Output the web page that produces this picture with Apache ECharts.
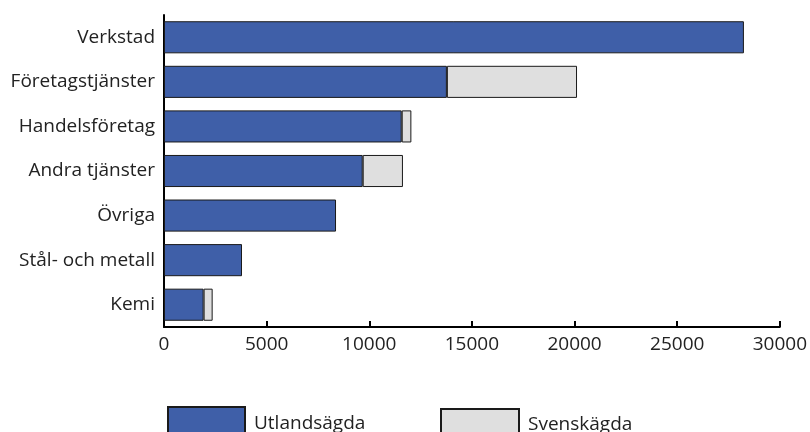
<!DOCTYPE html>
<html>
<head>
<meta charset="utf-8">
<script src="https://cdn.jsdelivr.net/npm/echarts@6/dist/echarts.min.js"></script>
<style>
html,body{margin:0;padding:0;background:#fff;}
#chart{width:810px;height:432px;}
</style>
</head>
<body>
<div id="chart"></div>
<script>
var categories = ['Verkstad', 'Företagstjänster', 'Handelsföretag', 'Andra tjänster', 'Övriga', 'Stål- och metall', 'Kemi'];
var utlandsagda = [28250, 13780, 11580, 9680, 8380, 3800, 1930];
var svenskagda = [null, 6340, 470, 1960, null, null, 440];
var xTicks = [0, 5000, 10000, 15000, 20000, 25000, 30000];

var FONT = '"Open Sans", sans-serif';
var FS = 19;
var chart = echarts.init(document.getElementById('chart'), null, {renderer: 'canvas'});
var border = {borderColor: '#1a1a1a', borderWidth: 1};
chart.setOption({
  animation: false,
  textStyle: {fontFamily: FONT},
  grid: {left: 164, right: 30, top: 15, bottom: 105, containLabel: false},
  xAxis: {
    type: 'value',
    min: xTicks[0],
    max: xTicks[xTicks.length - 1],
    interval: xTicks[1] - xTicks[0],
    axisLine: {show: true, lineStyle: {color: '#000', width: 2}},
    axisTick: {show: true, inside: true, length: 6, lineStyle: {color: '#000', width: 2}},
    axisLabel: {color: '#222', fontSize: FS, fontFamily: FONT, margin: 8,
      formatter: function (v) { return String(v); }},
    splitLine: {show: false}
  },
  yAxis: {
    type: 'category',
    inverse: true,
    data: categories,
    axisLine: {show: true, lineStyle: {color: '#000', width: 2}},
    axisTick: {show: false},
    axisLabel: {color: '#222', fontSize: FS, fontFamily: FONT, margin: 9}
  },
  legend: [
    {
      data: ['Utlandsägda'],
      icon: 'rect',
      left: 162, top: 401,
      itemWidth: 77, itemHeight: 34,
      textStyle: {fontSize: FS, color: '#222', fontFamily: FONT, padding: [0, 0, 0, 4]}
    },
    {
      data: ['Svenskägda'],
      icon: 'rect',
      left: 435, top: 403,
      itemWidth: 78, itemHeight: 31,
      textStyle: {fontSize: FS, color: '#222', fontFamily: FONT, padding: [0, 0, 0, 4]}
    }
  ],
  series: [
    {
      name: 'Utlandsägda', type: 'bar', stack: 'total',
      data: utlandsagda,
      barCategoryGap: '28%',
      itemStyle: Object.assign({color: '#3F5FA8'}, border)
    },
    {
      name: 'Svenskägda', type: 'bar', stack: 'total',
      data: svenskagda,
      barCategoryGap: '28%',
      itemStyle: Object.assign({color: '#DFDFDF'}, border)
    }
  ]
});
</script>
</body>
</html>
